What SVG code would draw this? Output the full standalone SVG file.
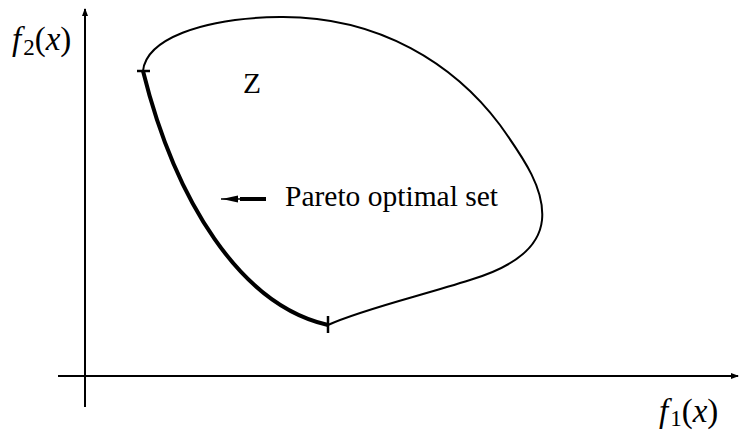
<svg xmlns="http://www.w3.org/2000/svg" width="739" height="433" viewBox="0 0 739 433">
<style>
.ax{stroke:#000;stroke-width:2;fill:none}
.cv{stroke:#000;stroke-width:2;fill:none}
.po{stroke:#000;stroke-width:4;fill:none}
text{font-family:'Liberation Serif','Times New Roman','DejaVu Serif',serif;fill:#000}
</style>
<defs>
<marker id="ah" markerWidth="8" markerHeight="6" refX="7" refY="3" orient="auto" markerUnits="userSpaceOnUse">
<path d="M0,0 L8,3 L0,6 Z" fill="#000"/>
</marker>
</defs>
<g id="axes">
<line class="ax" x1="85" y1="407" x2="85" y2="9" marker-end="url(#ah)"/>
<line class="ax" x1="58" y1="376" x2="738" y2="376" marker-end="url(#ah)"/>
</g>
<g id="region-Z">
<path class="cv" d="M143,71 C146,40 200,18 280,17 C380,16 455,65 500,125 C525,160 545,190 542,220 C539,250 510,268 470,280 C420,296 360,310 328,325"/>
<text x="243" y="93" font-size="29.5" font-family="'Liberation Serif', serif">Z</text>
</g>
<g id="pareto-set">
<path class="po" d="M143,71 C175,200 240,305 328,325"/>
<line x1="137" y1="71" x2="150" y2="71" stroke="#000" stroke-width="2.5"/>
<line x1="328" y1="316" x2="328" y2="333" stroke="#000" stroke-width="2.5"/>
</g>
<g id="connectors">
<line x1="266" y1="199" x2="240" y2="199" stroke="#000" stroke-width="4"/>
<line x1="242" y1="199" x2="221" y2="199" stroke="#000" stroke-width="1.5"/>
<path d="M222,199 L238,195.5 L238,202.5 Z" fill="#000"/>
</g>
<g id="labels">
<text x="285" y="206" font-size="29.5" font-family="'Liberation Serif', serif">Pareto optimal set</text>
<text x="12" y="50" font-size="33" font-family="'Liberation Serif', serif"><tspan font-style="italic">f</tspan><tspan font-size="23" dx="2" dy="5">2</tspan><tspan dy="-5">(</tspan><tspan font-style="italic">x</tspan>)</text>
<text x="659" y="422" font-size="33" font-family="'Liberation Serif', serif"><tspan font-style="italic">f</tspan><tspan font-size="23" dx="2" dy="4">1</tspan><tspan dy="-4">(</tspan><tspan font-style="italic">x</tspan>)</text>
</g>
</svg>
